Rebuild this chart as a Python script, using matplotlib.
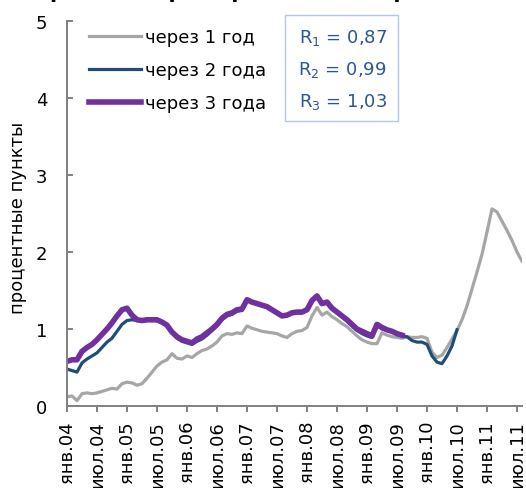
import matplotlib
matplotlib.use("Agg")
from matplotlib import pyplot as plt
import matplotlib.transforms as mtransforms
from matplotlib.patches import Rectangle

plt.rcParams["font.family"] = ["DejaVu Sans"]
plt.rcParams["mathtext.default"] = "regular"

# monthly values, Jan 2004 onwards
gray_1y = [0.12, 0.13, 0.07, 0.16, 0.17, 0.16, 0.17, 0.19, 0.21, 0.23,
           0.22, 0.29, 0.31, 0.30, 0.27, 0.29, 0.36, 0.44, 0.52, 0.57,
           0.60, 0.68, 0.62, 0.61, 0.65, 0.63, 0.68, 0.72, 0.74, 0.78,
           0.83, 0.91, 0.94, 0.93, 0.95, 0.94, 1.04, 1.01, 0.99, 0.97,
           0.96, 0.95, 0.94, 0.91, 0.89, 0.94, 0.97, 0.98, 1.02, 1.17,
           1.28, 1.18, 1.22, 1.16, 1.12, 1.07, 1.03, 0.97, 0.91, 0.86,
           0.83, 0.81, 0.81, 0.95, 0.92, 0.90, 0.89, 0.88, 0.90, 0.89,
           0.89, 0.90, 0.88, 0.70, 0.63, 0.66, 0.76, 0.87, 0.98, 1.12,
           1.30, 1.52, 1.74, 1.97, 2.26, 2.56, 2.52, 2.40, 2.28, 2.15,
           2.00, 1.88]
blue_2y = [0.48, 0.46, 0.44, 0.56, 0.61, 0.65, 0.69, 0.76, 0.83, 0.88,
           0.97, 1.06, 1.11, 1.12, 1.11, 1.10, 1.11, 1.11, 1.11, 1.08,
           1.04, 0.95, 0.88, 0.84, 0.82, 0.80, 0.84, 0.87, 0.92, 0.98,
           1.04, 1.12, 1.17, 1.19, 1.23, 1.24, 1.37, 1.34, 1.32, 1.30,
           1.28, 1.24, 1.20, 1.16, 1.17, 1.20, 1.21, 1.21, 1.24, 1.36,
           1.42, 1.32, 1.34, 1.26, 1.21, 1.16, 1.10, 1.04, 0.98, 0.94,
           0.91, 0.89, 1.05, 1.00, 0.98, 0.96, 0.93, 0.91, 0.90, 0.85,
           0.83, 0.83, 0.80, 0.65, 0.57, 0.55, 0.65, 0.78, 0.99]
purple_3y = [0.58, 0.60, 0.60, 0.71, 0.76, 0.80, 0.86, 0.93, 1.00, 1.08,
             1.17, 1.25, 1.27, 1.18, 1.12, 1.11, 1.12, 1.12, 1.12, 1.09,
             1.05, 0.96, 0.90, 0.86, 0.84, 0.82, 0.87, 0.90, 0.95, 1.00,
             1.06, 1.14, 1.19, 1.21, 1.25, 1.26, 1.38, 1.35, 1.33, 1.31,
             1.29, 1.25, 1.21, 1.17, 1.18, 1.21, 1.22, 1.22, 1.25, 1.37,
             1.43, 1.33, 1.35, 1.27, 1.22, 1.17, 1.12, 1.06, 1.00, 0.97,
             0.94, 0.91, 1.06, 1.02, 0.99, 0.97, 0.94, 0.92]

tick_labels = ["янв.04", "июл.04", "янв.05", "июл.05", "янв.06", "июл.06",
               "янв.07", "июл.07", "янв.08", "июл.08", "янв.09", "июл.09",
               "янв.10", "июл.10", "янв.11", "июл.11"]
r_labels = ["R$_1$ = 0,87", "R$_2$ = 0,99", "R$_3$ = 1,03"]

fig = plt.figure(figsize=(5.26, 4.89), dpi=100)
ax = fig.add_axes([67 / 526, 82 / 489, 455 / 526, 385 / 489])

ax.plot(range(len(gray_1y)), gray_1y, color="#A6A6A6", lw=2.3,
        label="через 1 год", solid_joinstyle="round")
ax.plot(range(len(blue_2y)), blue_2y, color="#1F4E79", lw=2.3,
        label="через 2 года", solid_joinstyle="round")
ax.plot(range(len(purple_3y)), purple_3y, color="#7030A0", lw=4.0,
        label="через 3 года", solid_joinstyle="round")

ax.set_xlim(0, 91)
ax.set_ylim(0, 5)
ax.set_yticks(range(6))
ax.set_xticks(range(0, 91, 6))
ax.set_xticklabels(tick_labels, rotation=90, fontsize=13)
# first label sits a bit to the right in the original
first = ax.get_xticklabels()[0]
first.set_transform(first.get_transform() +
                    mtransforms.ScaledTranslation(16 / 100, 0, fig.dpi_scale_trans))

for s in ["top", "right"]:
    ax.spines[s].set_visible(False)
for s in ["left", "bottom"]:
    ax.spines[s].set_color("#808080")
    ax.spines[s].set_linewidth(1.4)
ax.tick_params(axis="y", direction="in", length=4.5, width=1.4,
               color="#808080", labelsize=13, pad=14)
ax.tick_params(axis="x", direction="out", length=4, width=1.4,
               color="#808080", pad=6)

ax.set_ylabel("процентные пункты", fontsize=13)
ax.yaxis.set_label_coords(-0.088, 0.49)

leg = ax.legend(loc="upper left", bbox_to_anchor=(0.048, 0.982), frameon=False,
                fontsize=13, handlelength=2.9, handletextpad=0.22,
                labelspacing=0.84, borderpad=0, borderaxespad=0)

ax.add_patch(Rectangle((218 / 455, 285 / 385), 113 / 455, 106 / 385,
                       transform=ax.transAxes, fill=False,
                       edgecolor="#B4C7E7", lw=1.0, clip_on=False))
for k, t in enumerate(r_labels):
    ax.text(320 / 455, (407 - (43 + 32 * k)) / 385, t, transform=ax.transAxes,
            ha="right", va="baseline", fontsize=13, color="#2F5597")

fig.text(0.5, 491 / 489, "роста оборота розничной торговли", ha="center",
         va="baseline", fontsize=15, fontweight="bold")

fig.savefig("out.png", dpi=100)
